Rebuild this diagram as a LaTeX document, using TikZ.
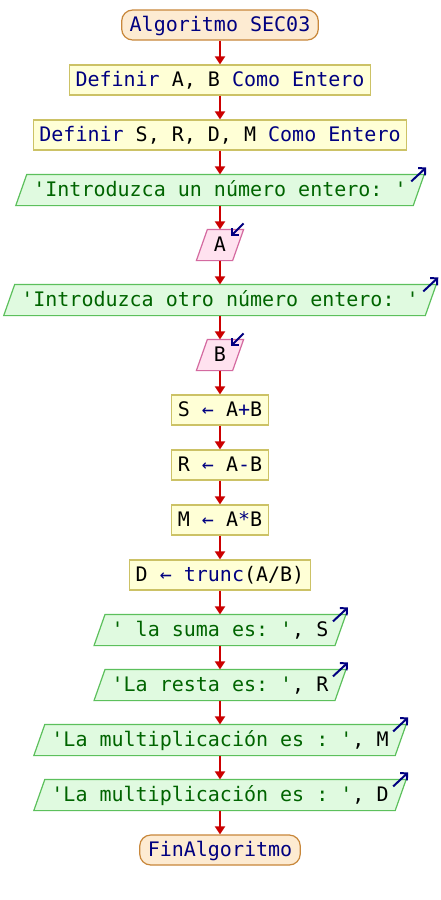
\documentclass[tikz,border=0pt]{standalone}
\usepackage{fontspec}
\setmonofont{DejaVu Sans Mono}
\usetikzlibrary{arrows.meta,backgrounds}

\definecolor{kwcol}{HTML}{000080}
\definecolor{strcol}{HTML}{006400}
\definecolor{termfill}{HTML}{FDEBD2}
\definecolor{termline}{HTML}{C8873A}
\definecolor{procfill}{HTML}{FFFFD6}
\definecolor{procline}{HTML}{CCC266}
\definecolor{outfill}{HTML}{E0FAE0}
\definecolor{outline}{HTML}{5CC05C}
\definecolor{infill}{HTML}{FFE2EF}
\definecolor{inline}{HTML}{D46AA0}
\definecolor{flowred}{HTML}{CC0000}
\definecolor{hintblue}{HTML}{000080}

% keywords in navy, string literals in green
\newcommand\kwd[1]{\textcolor{kwcol}{#1}}
\newcommand\lit[1]{\textcolor{strcol}{#1}}

\begin{document}
\begin{tikzpicture}[x=1pt,y=-1pt,
  every node/.style={font=\ttfamily\fontsize{20}{24}\selectfont,
    text height=15pt, text depth=3pt, inner ysep=0pt,
    minimum height=30pt, line width=1.2pt},
  term/.style={draw=termline, fill=termfill, rounded corners=11pt, inner xsep=8pt},
  proc/.style={draw=procline, fill=procfill, inner xsep=6pt},
  io/.style={inner xsep=17pt},
  flow/.style={draw=flowred, line width=2pt, -{Triangle[length=8pt,width=10pt]}},
  hint/.style={draw=hintblue, line width=2pt, -{Straight Barb[length=5pt,width=10pt]}},
  outshape/.style={draw=outline, fill=outfill, line width=1.2pt},
  inshape/.style={draw=inline, fill=infill, line width=1.2pt}]

\useasboundingbox (0,0) rectangle (440,900);

\node[term] (start) at (220,25)  {\kwd{Algoritmo SEC03}};
\node[proc] (def1)  at (220,80)  {\kwd{Definir} A, B \kwd{Como Entero}};
\node[proc] (def2)  at (220,135) {\kwd{Definir} S, R, D, M \kwd{Como Entero}};
\node[io]   (out1)  at (220,190) {\lit{'Introduzca un número entero: '}};
\node[io]   (inA)   at (220,245) {A};
\node[io]   (out2)  at (220,300) {\lit{'Introduzca otro número entero: '}};
\node[io]   (inB)   at (220,355) {B};
\node[proc] (sum)   at (220,410) {S \kwd{←} A\kwd{+}B};
\node[proc] (res)   at (220,465) {R \kwd{←} A\kwd{-}B};
\node[proc] (mul)   at (220,520) {M \kwd{←} A\kwd{*}B};
\node[proc] (div)   at (220,575) {D \kwd{←} \kwd{trunc}(A/B)};
\node[io]   (outS)  at (220,630) {\lit{' la suma es: '}, S};
\node[io]   (outR)  at (220,685) {\lit{'La resta es: '}, R};
\node[io]   (outM)  at (220,740) {\lit{'La multiplicación es : '}, M};
\node[io]   (outD)  at (220,795) {\lit{'La multiplicación es : '}, D};
\node[term] (stop)  at (220,850) {\kwd{FinAlgoritmo}};

% white page and parallelogram outlines behind the text of the input/output steps
\begin{scope}[on background layer]
  \fill[white] (0,0) rectangle (440,900);
  \foreach \n in {out1,out2,outS,outR,outM,outD}
    \draw[outshape] (\n.south west) -- ([xshift=11pt]\n.north west)
      -- (\n.north east) -- ([xshift=-11pt]\n.south east) -- cycle;
  \foreach \n in {inA,inB}
    \draw[inshape] (\n.south west) -- ([xshift=11pt]\n.north west)
      -- (\n.north east) -- ([xshift=-11pt]\n.south east) -- cycle;
\end{scope}

% output marks (arrow leaving) and input marks (arrow entering)
\foreach \n in {out1,out2,outS,outR,outM,outD}
  \draw[hint] ([xshift=-13pt,yshift=-7pt]\n.north east) -- ([xshift=2pt,yshift=7pt]\n.north east);
\foreach \n in {inA,inB}
  \draw[hint] ([xshift=0pt,yshift=6pt]\n.north east) -- ([xshift=-13pt,yshift=-7pt]\n.north east);

% flow connectors
\foreach \a/\b in {start/def1,def1/def2,def2/out1,out1/inA,inA/out2,out2/inB,
    inB/sum,sum/res,res/mul,mul/div,div/outS,outS/outR,outR/outM,outM/outD,outD/stop}
  \draw[flow] (\a) -- (\b);

\end{tikzpicture}
\end{document}
